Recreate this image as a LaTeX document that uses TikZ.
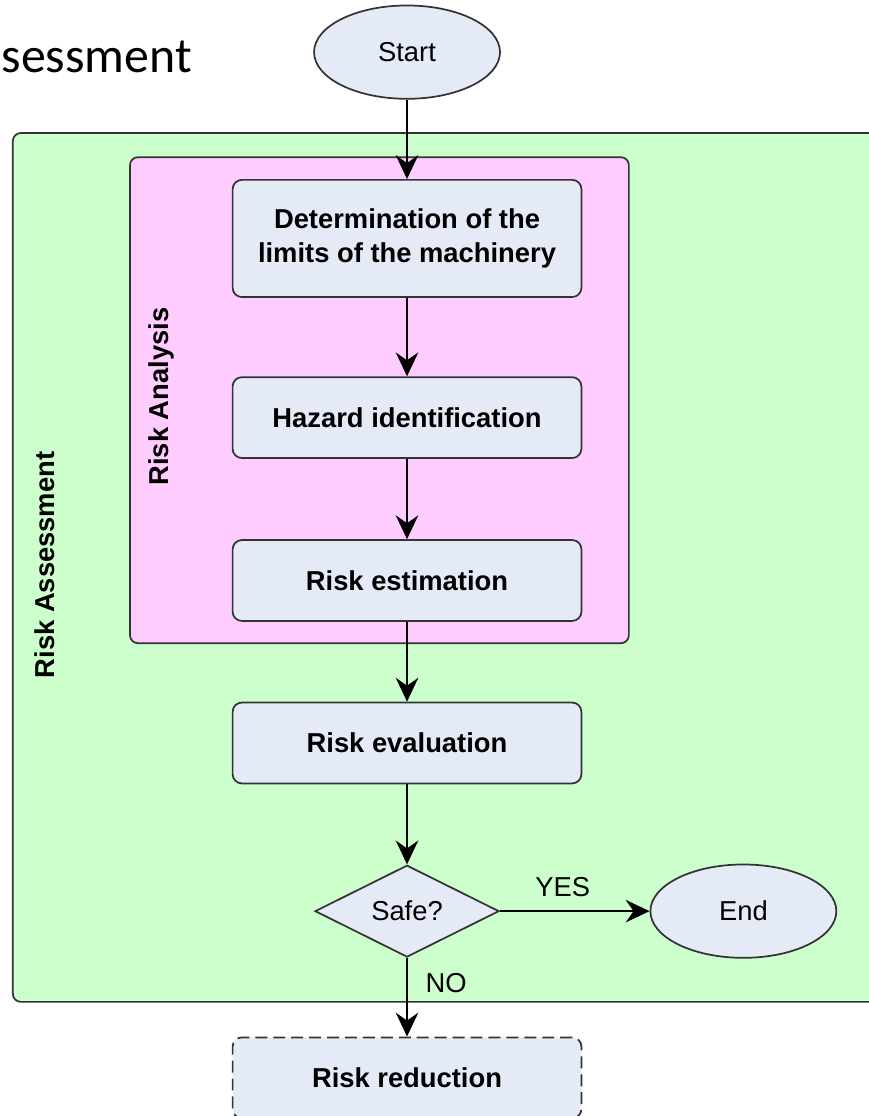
\documentclass[tikz,border=0pt]{standalone}
\usepackage{fontspec}
\setmainfont{Liberation Sans}
\newfontfamily\titlefont{Carlito}
\usetikzlibrary{shapes.geometric,arrows.meta}
\definecolor{assessgreen}{RGB}{204,255,204}
\definecolor{analysispink}{RGB}{255,204,255}
\definecolor{boxblue}{RGB}{228,235,246}

\begin{document}
\begin{tikzpicture}[
    every node/.style={font=\fontsize{20.6}{25.5}\selectfont},
    frame/.style={draw=black!80,line width=1.3pt,rounded corners=6pt},
    stepbox/.style={draw=black!80,line width=1.3pt,fill=boxblue,rounded corners=7pt,
                    minimum width=9.23cm,minimum height=2.14cm,align=center,
                    font=\bfseries\fontsize{20.6}{25.5}\selectfont},
    terminal/.style={ellipse,draw=black!80,line width=1.3pt,fill=boxblue,
                     minimum width=4.92cm,minimum height=2.47cm},
    flow/.style={-{Stealth[length=18pt,width=17pt,inset=6pt]},line width=1.3pt}
  ]
  \useasboundingbox (0,0) rectangle (22.97,29.53);
  % Title, cut at the left border
  \node[anchor=base west] (title) at (-0.08,27.62) {\titlefont\fontsize{37.5}{40}\selectfont sessment};
  % Containers
  \draw[frame,fill=assessgreen] (0.34,3.02) rectangle (23.6,26.01);
  \draw[frame,fill=analysispink] (3.44,12.51) rectangle (16.64,25.37);
  \node[rotate=90,font=\bfseries\fontsize{20.6}{25.5}\selectfont] (assess) at (1.19,14.58) {Risk Assessment};
  \node[rotate=90,font=\bfseries\fontsize{20.6}{25.5}\selectfont] (analysis) at (4.26,19.04) {Risk Analysis};
  % Steps of the procedure
  \node[terminal]                     (start) at (10.77,28.15) {Start};
  \node[stepbox,minimum height=3.10cm] (limits) at (10.77,23.22) {Determination of the\\limits of the machinery};
  \node[stepbox]                      (hazard) at (10.77,18.48) {Hazard identification};
  \node[stepbox]                      (estim)  at (10.77,14.17) {Risk estimation};
  \node[stepbox]                      (evalu)  at (10.77,9.87)  {Risk evaluation};
  \node[diamond,draw=black!80,line width=1.3pt,fill=boxblue,inner sep=0pt,
        minimum width=4.87cm,minimum height=2.43cm] (safe) at (10.77,5.42) {Safe?};
  \node[terminal]                     (end)    at (19.67,5.42) {End};
  \node[stepbox,dashed,dash pattern=on 9pt off 4.5pt] (reduce) at (10.77,1.01) {Risk reduction};
  % Connectors
  \draw[flow] (start) -- (limits);
  \draw[flow] (limits) -- (hazard);
  \draw[flow] (hazard) -- (estim);
  \draw[flow] (estim) -- (evalu);
  \draw[flow] (evalu) -- (safe);
  \draw[flow] (safe) -- node[above=0.24cm,pos=.42] (yes) {YES} (end);
  \draw[flow] (safe) -- node[right=0.35cm,pos=.32] (no) {NO} (reduce);
\end{tikzpicture}
\end{document}
